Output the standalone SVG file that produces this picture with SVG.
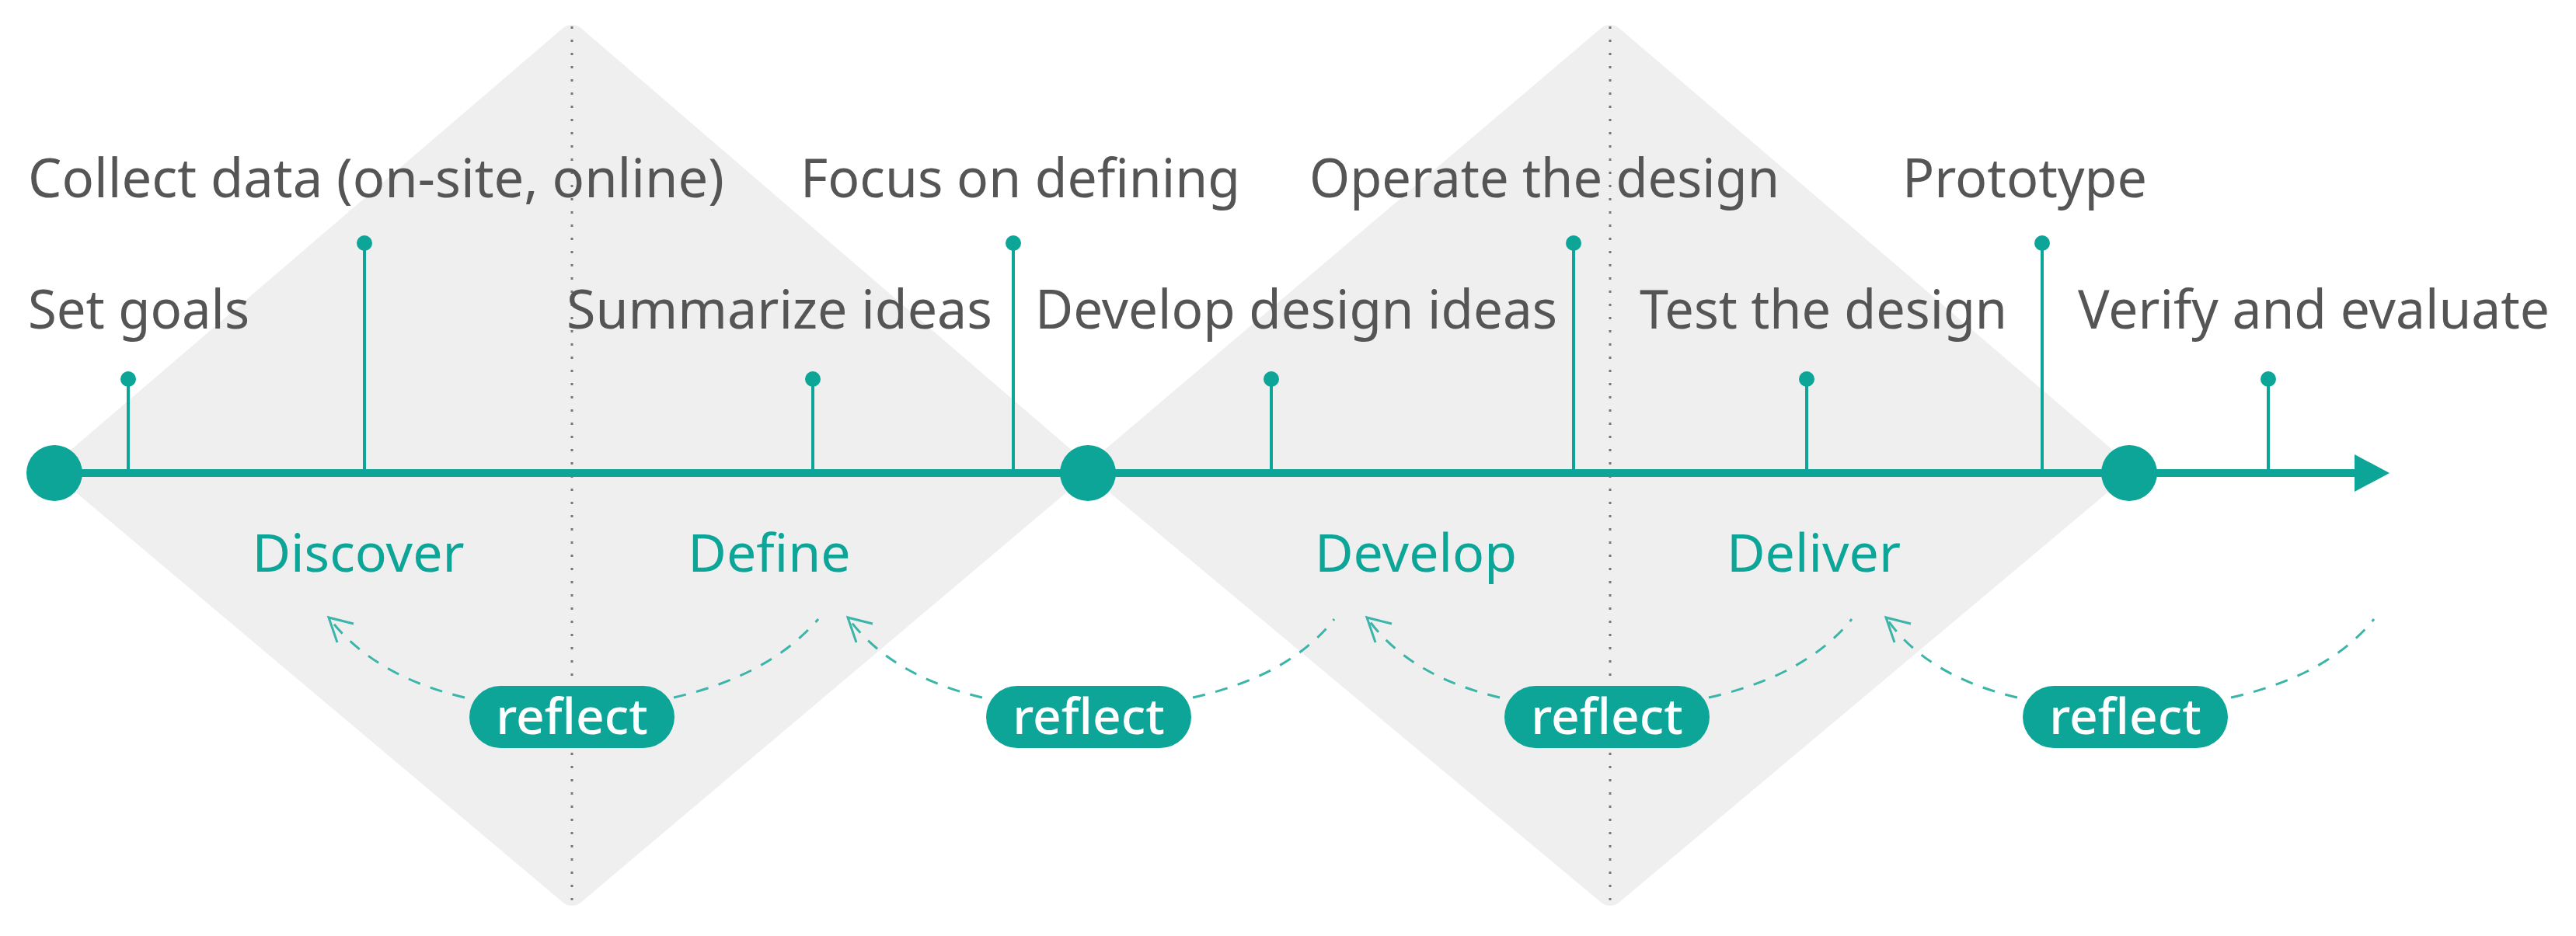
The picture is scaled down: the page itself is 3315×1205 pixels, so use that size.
<svg xmlns="http://www.w3.org/2000/svg" width="3315" height="1205" viewBox="0 0 3315 1205">
<style>
.dia{fill:#efefef;stroke:#efefef;stroke-width:36;stroke-linejoin:round}
.vd{stroke:#777;stroke-width:3;stroke-dasharray:3 14}
.lab{font-family:"Noto Sans","Liberation Sans",sans-serif;font-size:70px;fill:#555}
.ph{font-family:"Noto Sans","Liberation Sans",sans-serif;font-size:68px;fill:#0ca597;text-anchor:middle}
.pt{font-family:"Noto Sans","Liberation Sans",sans-serif;font-size:64px;fill:#fff;text-anchor:middle;font-weight:500}
.tick{stroke:#0ca597;stroke-width:4}
.dot{fill:#0ca597}
.dash{fill:none;stroke:#3bb5a9;stroke-width:3;stroke-dasharray:16 14}
</style>
<defs>
<marker id="ah" markerWidth="14" markerHeight="14" refX="1" refY="7" orient="auto-start-reverse" markerUnits="userSpaceOnUse" viewBox="0 0 14 14">
</marker>
</defs>
<g id="diamonds">
<polygon class="dia" points="736,50 1380,604 736,1148 90,604"/>
<polygon class="dia" points="2072,50 2720,604 2072,1148 1420,604"/>
<line class="vd" x1="736" y1="34" x2="736" y2="1165"/>
<line class="vd" x1="2072" y1="34" x2="2072" y2="1165"/>
</g>
<g id="connectors">
<line x1="70" y1="609" x2="3040" y2="609" stroke="#0ca597" stroke-width="10"/>
<polygon points="3030,585 3075,609 3030,633" fill="#0ca597"/>
<path class="dash" d="M598,898 Q480,870 423,795"/>
<path class="dash" d="M867,898 Q990,870 1053,797"/>
<path class="dash" d="M1264,898 Q1146,870 1091,795"/>
<path class="dash" d="M1535,898 Q1660,870 1717,797"/>
<path class="dash" d="M1930,898 Q1812,870 1759,795"/>
<path class="dash" d="M2199,898 Q2324,870 2383,797"/>
<path class="dash" d="M2596,898 Q2478,870 2427,795"/>
<path class="dash" d="M2871,898 Q2996,870 3055,797"/>
<g fill="none" stroke="#3bb5a9" stroke-width="3">
<polyline points="434,827 423,795 455,803"/>
<polyline points="1102,827 1091,795 1123,803"/>
<polyline points="1770,827 1759,795 1791,803"/>
<polyline points="2438,827 2427,795 2459,803"/>
</g>
</g>
<g id="milestones">
<circle class="dot" cx="70" cy="609" r="36"/>
<circle class="dot" cx="1400" cy="609" r="36"/>
<circle class="dot" cx="2740" cy="609" r="36"/>
</g>
<g id="ticks">
<line class="tick" x1="165" y1="488" x2="165" y2="609"/><circle class="dot" cx="165" cy="488" r="10"/>
<line class="tick" x1="469" y1="313" x2="469" y2="609"/><circle class="dot" cx="469" cy="313" r="10"/>
<line class="tick" x1="1046" y1="488" x2="1046" y2="609"/><circle class="dot" cx="1046" cy="488" r="10"/>
<line class="tick" x1="1304" y1="313" x2="1304" y2="609"/><circle class="dot" cx="1304" cy="313" r="10"/>
<line class="tick" x1="1636" y1="488" x2="1636" y2="609"/><circle class="dot" cx="1636" cy="488" r="10"/>
<line class="tick" x1="2025" y1="313" x2="2025" y2="609"/><circle class="dot" cx="2025" cy="313" r="10"/>
<line class="tick" x1="2325" y1="488" x2="2325" y2="609"/><circle class="dot" cx="2325" cy="488" r="10"/>
<line class="tick" x1="2628" y1="313" x2="2628" y2="609"/><circle class="dot" cx="2628" cy="313" r="10"/>
<line class="tick" x1="2919" y1="488" x2="2919" y2="609"/><circle class="dot" cx="2919" cy="488" r="10"/>
</g>
<g id="labels">
<text class="lab" x="36" y="423" textLength="285" lengthAdjust="spacingAndGlyphs">Set goals</text>
<text class="lab" x="36" y="254" textLength="896" lengthAdjust="spacingAndGlyphs">Collect data (on-site, online)</text>
<text class="lab" x="729" y="423" textLength="548" lengthAdjust="spacingAndGlyphs">Summarize ideas</text>
<text class="lab" x="1030" y="254" textLength="566" lengthAdjust="spacingAndGlyphs">Focus on defining</text>
<text class="lab" x="1332" y="423" textLength="672" lengthAdjust="spacingAndGlyphs">Develop design ideas</text>
<text class="lab" x="1685" y="254" textLength="605" lengthAdjust="spacingAndGlyphs">Operate the design</text>
<text class="lab" x="2110" y="423" textLength="473" lengthAdjust="spacingAndGlyphs">Test the design</text>
<text class="lab" x="2448" y="254" textLength="315" lengthAdjust="spacingAndGlyphs">Prototype</text>
<text class="lab" x="2674" y="423" textLength="607" lengthAdjust="spacingAndGlyphs">Verify and evaluate</text>
</g>
<g id="phases">
<text class="ph" x="461" y="736">Discover</text>
<text class="ph" x="990" y="736">Define</text>
<text class="ph" x="1822" y="736">Develop</text>
<text class="ph" x="2334" y="736">Deliver</text>
</g>
<g id="reflect1"><rect x="604" y="883" width="264" height="80" rx="40" fill="#0ca597"/><text class="pt" x="736" y="945">reflect</text></g>
<g id="reflect2"><rect x="1269" y="883" width="264" height="80" rx="40" fill="#0ca597"/><text class="pt" x="1401" y="945">reflect</text></g>
<g id="reflect3"><rect x="1936" y="883" width="264" height="80" rx="40" fill="#0ca597"/><text class="pt" x="2068" y="945">reflect</text></g>
<g id="reflect4"><rect x="2603" y="883" width="264" height="80" rx="40" fill="#0ca597"/><text class="pt" x="2735" y="945">reflect</text></g>
</svg>
